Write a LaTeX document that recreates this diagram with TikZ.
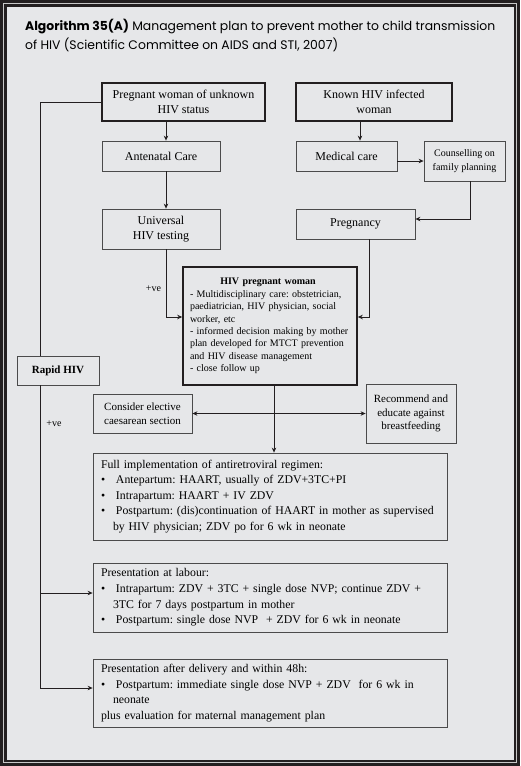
\documentclass[tikz,border=0pt]{standalone}
\usepackage{fontspec}
\setmainfont{Liberation Serif}
\newfontfamily\titlefont{Poppins}
\usetikzlibrary{arrows.meta, positioning}
\definecolor{panelgray}{RGB}{230,231,233}
\definecolor{inkblack}{RGB}{35,31,32}
\definecolor{rulegray}{RGB}{75,75,75}
\definecolor{framelight}{RGB}{200,200,200}

\newcommand{\bul}{\makebox[15pt][l]{\textbullet}}
\newcommand{\cont}{\hspace*{12pt}}

\begin{document}
\frenchspacing
\begin{tikzpicture}[x=1pt, y=-1pt,
    box/.style={rectangle, draw=rulegray, line width=0.8pt, fill=panelgray,
        inner sep=0pt, align=center, font=\fontsize{12}{15}\selectfont},
    keybox/.style={box, draw=inkblack, line width=1.6pt},
    listbox/.style={box, align=left, inner xsep=8pt, text width=338pt,
        minimum width=354pt, font=\fontsize{11.8}{15.6}\selectfont},
    arrow/.style={->, >={Stealth[length=5pt,width=4.5pt]}, line width=0.8pt, inkblack},
    link/.style={line width=0.8pt, inkblack},
    note/.style={font=\fontsize{10}{10}\selectfont, inner sep=0pt}
]
    \useasboundingbox (0,0) rectangle (520,766);

    % Frame
    \fill[inkblack] (0,0) rectangle (520,766);
    \fill[framelight] (3,3) rectangle (517,763);
    \fill[inkblack] (4,4) rectangle (516,762);
    \fill[panelgray] (6.5,6.5) rectangle (513.5,759.5);

    % Title
    \node[anchor=north west, align=left, inner sep=0pt,
        font=\titlefont\fontsize{12.4}{19}\selectfont] (title) at (25,19)
        {\textbf{Algorithm 35(A)} Management plan to prevent mother to child transmission\\
         of HIV (Scientific Committee on AIDS and STI, 2007)};

    % Column helpers
    \coordinate (colL) at (166,0);
    \coordinate (colR) at (360,0);
    \coordinate (colP) at (369,0);
    \coordinate (colC) at (470,0);
    \coordinate (colM) at (274,0);
    \coordinate (rail) at (40,0);
    \coordinate (rowIn) at (0,317);

    % Row 1
    \node[keybox, minimum width=163pt, minimum height=38pt] (unknown) at (183.5,102)
        {Pregnant woman of unknown\\HIV status};
    \node[keybox, minimum width=156pt, minimum height=38pt] (known) at (374,102)
        {Known HIV infected\\woman};

    % Row 2
    \node[box, minimum width=118pt, minimum height=30pt] (antenatal) at (161,156) {Antenatal Care};
    \node[box, minimum width=101pt, minimum height=30pt] (medical) at (346.5,156) {Medical care};
    \node[box, minimum width=81pt, minimum height=40pt, font=\fontsize{10}{13.5}\selectfont]
        (counsel) at (464.5,161) {Counselling on\\family planning};

    % Row 3
    \node[box, minimum width=118pt, minimum height=40pt] (testing) at (161,229) {Universal\\HIV testing};
    \node[box, minimum width=119pt, minimum height=30pt] (pregnancy) at (355.5,224) {Pregnancy};

    % Row 4
    \node[keybox, align=left, text width=160pt, inner xsep=7pt, minimum width=174pt,
        minimum height=118pt, font=\fontsize{10}{12.4}\selectfont] (hivpreg) at (270,326)
        {\makebox[156pt]{\textbf{HIV pregnant woman}}\\
         \mbox{- Multidisciplinary care: obstetrician,}\\
         \mbox{paediatrician, HIV physician, social}\\
         worker, etc\\
         \mbox{- informed decision making by mother}\\
         \mbox{plan developed for MTCT prevention}\\
         \mbox{and HIV disease management}\\
         - close follow up};
    \node[box, minimum width=82pt, minimum height=29pt, font=\bfseries\fontsize{11}{13}\selectfont]
        (rapid) at (58,370.5) {Rapid HIV};

    % Row 5
    \node[box, minimum width=99pt, minimum height=39pt, font=\fontsize{11}{14}\selectfont]
        (caesar) at (142.5,413.5) {Consider elective\\caesarean section};
    \node[box, minimum width=90pt, minimum height=59pt, font=\fontsize{11}{13.7}\selectfont]
        (breast) at (411,413.5) {Recommend and\\educate against\\breastfeeding};

    % Regimen boxes
    \node[listbox, minimum height=87pt] (full) at (270,496.5)
        {Full implementation of antiretroviral regimen:\\
         \bul Antepartum: HAART, usually of ZDV+3TC+PI\\
         \bul Intrapartum: HAART + IV ZDV\\
         \bul \mbox{Postpartum: (dis)continuation of HAART in mother as supervised}\\
         \cont by HIV physician; ZDV po for 6 wk in neonate};
    \node[listbox, minimum height=69pt] (labour) at (270,597.5)
        {Presentation at labour:\\
         \bul Intrapartum: ZDV + 3TC + single dose NVP; continue ZDV +\\
         \cont 3TC for 7 days postpartum in mother\\
         \bul Postpartum: single dose NVP \ + ZDV for 6 wk in neonate};
    \node[listbox, minimum height=68pt] (after) at (270,693)
        {Presentation after delivery and within 48h:\\
         \bul Postpartum: immediate single dose NVP + ZDV \ for 6 wk in\\
         \cont neonate\\
         plus evaluation for maternal management plan};

    % Arrows
    \draw[arrow] (unknown.south -| colL) -- (antenatal.north -| colL);
    \draw[arrow] (antenatal.south -| colL) -- (testing.north -| colL);
    \draw[arrow] (testing.south -| colL) |- (hivpreg.west |- rowIn);
    \draw[arrow] (known.south -| colR) -- (medical.north -| colR);
    \draw[arrow] (medical.east |- counsel.west) -- (counsel.west);
    \draw[arrow] (counsel.south -| colC) |- ([yshift=5pt]pregnancy.east);
    \draw[arrow] (pregnancy.south -| colP) |- (hivpreg.east |- rowIn);
    \draw[arrow] (hivpreg.south -| colM) -- (full.north -| colM);
    \draw[arrow, <->] (caesar.east) -- (breast.west);
    \draw[link] (unknown.west) -| (rapid.north -| rail);
    \draw[arrow] (rapid.south -| rail) |- ([yshift=4.5pt]labour.west);
    \draw[arrow] (rapid.south -| rail) |- ([yshift=5pt]after.west);

    % Labels
    \node[note] (posL) at (153.5,289) {+ve};
    \node[note] (posR) at (54,424) {+ve};
\end{tikzpicture}
\end{document}
